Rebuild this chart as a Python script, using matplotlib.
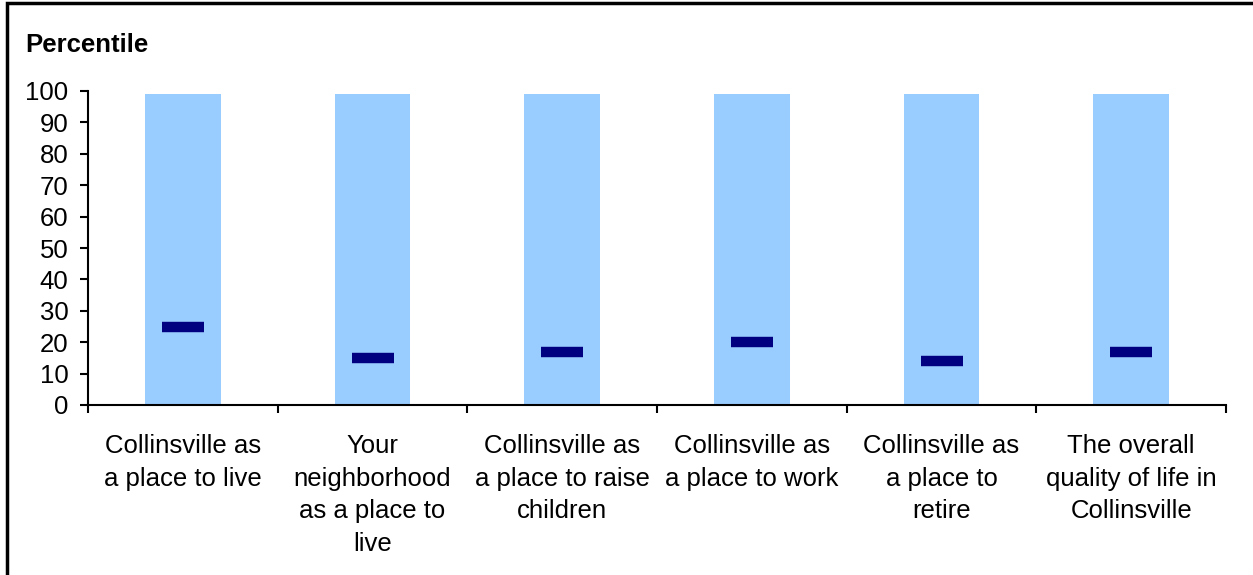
import matplotlib
matplotlib.use("Agg")
import matplotlib.pyplot as plt
from matplotlib.patches import Rectangle

categories = [
    "Collinsville as\na place to live",
    "Your\nneighborhood\nas a place to\nlive",
    "Collinsville as\na place to raise\nchildren",
    "Collinsville as\na place to work",
    "Collinsville as\na place to\nretire",
    "The overall\nquality of life in\nCollinsville",
]
range_top = [99, 99, 99, 99, 99, 99]
percentile = [25, 15, 17, 20, 14, 17]
yticks = list(range(0, 101, 10))

plt.rcParams['font.family'] = ['Liberation Sans', 'DejaVu Sans']

fig = plt.figure(figsize=(12.53, 5.75), dpi=100)
ax = fig.add_axes([88/1253, 1-405/575, (1226-88)/1253, (405-91)/575])

x = list(range(len(categories)))
ax.bar(x, range_top, width=0.4, color='#99CCFF', zorder=1)
ax.plot(x, percentile, linestyle='none', marker='_', ms=30, mew=7.5,
        color='#000080', zorder=3)

ax.set_xlim(-0.5, len(categories) - 0.5)
ax.set_ylim(0, 100)
ax.set_yticks(yticks)
ax.set_yticklabels([str(v) for v in yticks], fontsize=18.5)
ax.tick_params(axis='y', direction='out', length=6, width=1.5, pad=8)

ax.set_xticks([i - 0.5 for i in range(len(categories) + 1)])
ax.set_xticklabels([])
ax.tick_params(axis='x', direction='out', length=6, width=1.5)
for i, lab in enumerate(categories):
    ax.text(i, -9.3, lab, ha='center', va='top', fontsize=18.5,
            linespacing=1.45, transform=ax.transData)

for s in ['top', 'right']:
    ax.spines[s].set_visible(False)
for s in ['left', 'bottom']:
    ax.spines[s].set_linewidth(1.5)

fig.text(25/1253, 1-45/575, "Percentile", fontsize=18.5, fontweight='bold',
         ha='left', va='center')

fig.patches.append(Rectangle((7/1253, -0.1), 1.2, 1.1 - 3/575,
                             transform=fig.transFigure, fill=False,
                             edgecolor='black', linewidth=2.5, figure=fig))

fig.savefig("out.png", dpi=100)
